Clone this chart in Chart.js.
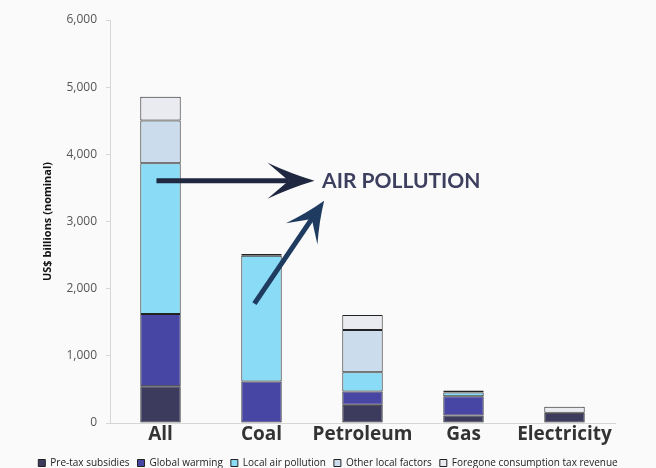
<!DOCTYPE html>
<html>
<head>
<meta charset="utf-8">
<script src="https://cdn.jsdelivr.net/npm/chart.js@4.4.1/dist/chart.umd.min.js"></script>
<style>
  html, body { margin: 0; padding: 0; background: #fafafa; }
  #wrap { width: 656px; height: 468px; overflow: hidden; }
</style>
</head>
<body>
<div id="wrap"><canvas id="subsidyChart" width="656" height="468"></canvas></div>
<script>
var categories = ['All', 'Coal', 'Petroleum', 'Gas', 'Electricity'];
var seriesNames = ['Pre-tax subsidies', 'Global warming', 'Local air pollution', 'Other local factors', 'Foregone consumption tax revenue'];
var preTax = [547, 0, 271, 112, 152];
var globalWarming = [1077, 617, 197, 286, 0];
var localAir = [2245, 1874, 287, 56, 0];
var otherLocal = [633, 25, 631, 29, 0];
var foregoneTax = [357, 0, 223, 0, 89];
var yTicks = [0, 1000, 2000, 3000, 4000, 5000, 6000];
var annotationText = 'AIR POLLUTION';

var colors = ['#3c3b5e', '#4846a5', '#8adcf6', '#cbdcec', '#e9ebf1'];
var allSeries = [preTax, globalWarming, localAir, otherLocal, foregoneTax];

document.addEventListener('DOMContentLoaded', function () {

    var datasets = allSeries.map(function (values, i) {
        return {
            label: seriesNames[i],
            data: values,
            backgroundColor: colors[i],
            borderColor: '#222',
            borderWidth: 1,
            borderSkipped: false,
            barPercentage: 0.4,
            categoryPercentage: 1.0
        };
    });

    // background + arrows / annotation text
    var airPollution = {
        id: 'airPollution',
        beforeDraw: function (chart) {
            var ctx = chart.ctx;
            ctx.save();
            ctx.fillStyle = '#fafafa';
            ctx.fillRect(0, 0, chart.width, chart.height);
            ctx.restore();
        },
        afterDatasetsDraw: function (chart) {
            var ctx = chart.ctx;
            var x = chart.scales.x, y = chart.scales.y;

            function arrow(x1, y1, x2, y2, color, headLen, halfW) {
                var dx = x2 - x1, dy = y2 - y1;
                var len = Math.sqrt(dx * dx + dy * dy);
                var ux = dx / len, uy = dy / len;
                var px = -uy, py = ux;
                var bx = x2 - ux * headLen, by = y2 - uy * headLen;
                var nx = x2 - ux * headLen * 0.55, ny = y2 - uy * headLen * 0.55;
                var w1x = bx + px * halfW, w1y = by + py * halfW;
                var w2x = bx - px * halfW, w2y = by - py * halfW;
                ctx.save();
                ctx.strokeStyle = color;
                ctx.fillStyle = color;
                ctx.lineWidth = 5;
                ctx.beginPath();
                ctx.moveTo(x1, y1);
                ctx.lineTo(nx, ny);
                ctx.stroke();
                ctx.beginPath();
                ctx.moveTo(x2, y2);
                // slightly concave front edges
                ctx.quadraticCurveTo((x2 + w1x) / 2 - px * 2, (y2 + w1y) / 2 - py * 2, w1x, w1y);
                ctx.lineTo(nx, ny);
                ctx.lineTo(w2x, w2y);
                ctx.quadraticCurveTo((x2 + w2x) / 2 + px * 2, (y2 + w2y) / 2 + py * 2, x2, y2);
                ctx.closePath();
                ctx.fill();
                ctx.restore();
            }

            arrow(x.getPixelForValue(-0.04), y.getPixelForValue(3606),
                  x.getPixelForValue(1.525), y.getPixelForValue(3606), '#1f2741', 47, 18);
            arrow(x.getPixelForValue(0.93), y.getPixelForValue(1777),
                  x.getPixelForValue(1.62), y.getPixelForValue(3309), '#1f3b5f', 40, 19);

            ctx.save();
            ctx.fillStyle = '#3d3f5f';
            ctx.font = 'bold 21px Lato';
            ctx.textAlign = 'left';
            ctx.textBaseline = 'middle';
            ctx.fillText(annotationText, x.getPixelForValue(1.6), y.getPixelForValue(3606));
            ctx.restore();
        }
    };

    var chart = new Chart(document.getElementById('subsidyChart'), {
        type: 'bar',
        data: {
            labels: categories,
            datasets: datasets
        },
        options: {
            responsive: false,
            animation: false,
            layout: { padding: { left: 0, right: 0, top: 20, bottom: -10 } },
            plugins: {
                legend: {
                    position: 'bottom',
                    labels: {
                        boxWidth: 7,
                        boxHeight: 7,
                        padding: 8,
                        color: '#222',
                        font: { family: 'Open Sans', size: 10 }
                    }
                },
                tooltip: { enabled: false }
            },
            scales: {
                x: {
                    stacked: true,
                    border: { color: '#d6d6d6' },
                    grid: { display: true, drawOnChartArea: false, drawTicks: false, color: '#d6d6d6' },
                    ticks: {
                        color: '#333',
                        padding: 0,
                        maxRotation: 0,
                        minRotation: 0,
                        autoSkip: false,
                        font: { family: 'Open Sans', size: 19, weight: 'bold' }
                    },
                    afterFit: function (scale) { scale.height = 27; }
                },
                y: {
                    stacked: true,
                    min: 0,
                    max: 6000,
                    border: { color: '#d6d6d6' },
                    grid: { display: true, drawOnChartArea: false, tickLength: 4, color: '#d6d6d6' },
                    afterBuildTicks: function (scale) {
                        scale.ticks = yTicks.map(function (v) { return { value: v }; });
                    },
                    ticks: {
                        color: '#555',
                        padding: 9,
                        font: { family: 'Open Sans', size: 12 },
                        callback: function (v) { return v.toLocaleString('en-US'); }
                    },
                    title: {
                        display: true,
                        text: 'US$ billions (nominal)',
                        color: '#111',
                        padding: { top: 41, bottom: 0 },
                        font: { family: 'Open Sans', size: 11, weight: 'bold' }
                    },
                    afterFit: function (scale) { scale.width = 110; }
                },
                yRight: {
                    position: 'right',
                    display: true,
                    grid: { display: false },
                    border: { display: false },
                    ticks: { display: false },
                    afterFit: function (scale) { scale.width = 41; }
                }
            }
        },
        plugins: [airPollution]
    });
});
</script>
</body>
</html>
